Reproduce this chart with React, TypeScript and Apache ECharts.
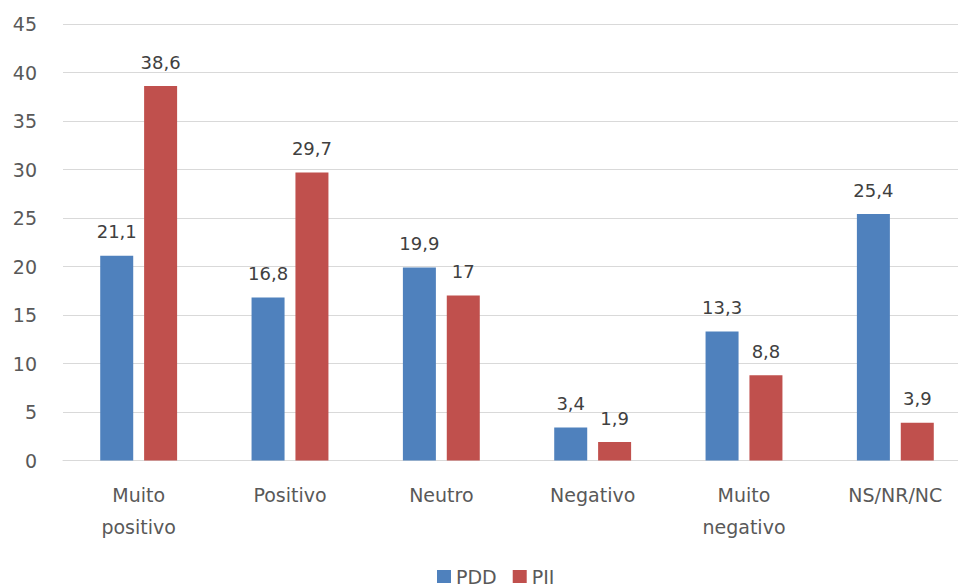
import React, { useEffect, useRef } from "react";
import * as echarts from "echarts";

const categories = ["Muito\npositivo", "Positivo", "Neutro", "Negativo", "Muito\nnegativo", "NS/NR/NC"];
const pddValues = [21.1, 16.8, 19.9, 3.4, 13.3, 25.4];
const piiValues = [38.6, 29.7, 17, 1.9, 8.8, 3.9];
const seriesNames = ["PDD", "PII"];

const FONT = "DejaVu Sans";

export default function App() {
  const ref = useRef<HTMLDivElement>(null);
  useEffect(() => {
    if (!ref.current) return;
    const chart = echarts.init(ref.current, null, { renderer: "svg" });
    const label = {
      show: true,
      position: "top" as const,
      distance: 15,
      color: "#404040",
      fontFamily: FONT,
      fontSize: 18,
      formatter: (p: any) => String(p.value).replace(".", ","),
    };
    chart.setOption({
      animation: false,
      backgroundColor: "#ffffff",
      textStyle: { fontFamily: FONT },
      grid: { left: 63, right: 1, top: 24, bottom: 124.5, containLabel: false },
      legend: {
        data: seriesNames,
        left: 437,
        top: 567,
        padding: 0,
        itemWidth: 14,
        itemHeight: 13,
        itemGap: 16,
        icon: "rect",
        textStyle: { color: "#595959", fontSize: 19, fontFamily: FONT, lineHeight: 18 },
      },
      xAxis: {
        type: "category",
        data: categories,
        axisLine: { lineStyle: { color: "#D9D9D9", width: 1 } },
        axisTick: { show: false },
        axisLabel: { color: "#595959", fontSize: 19, fontFamily: FONT, margin: 18, lineHeight: 32, interval: 0 },
      },
      yAxis: {
        type: "value",
        min: 0,
        max: 45,
        interval: 5,
        axisLine: { show: false },
        axisTick: { show: false },
        splitLine: { lineStyle: { color: "#D9D9D9", width: 1 } },
        axisLabel: { color: "#595959", fontSize: 19, fontFamily: FONT, margin: 26 },
      },
      series: [
        {
          name: seriesNames[0],
          type: "bar",
          data: pddValues,
          barWidth: 33,
          barGap: "33%",
          itemStyle: { color: "#4F81BD" },
          label,
        },
        {
          name: seriesNames[1],
          type: "bar",
          data: piiValues,
          barWidth: 33,
          barGap: "33%",
          itemStyle: { color: "#C0504D" },
          label,
        },
      ],
    });
    return () => chart.dispose();
  }, []);
  return (
    <div style={{ position: "absolute", left: 0, top: 0, width: 958, height: 585, overflow: "hidden" }}>
      <div ref={ref} style={{ width: 972, height: 585 }} />
    </div>
  );
}
